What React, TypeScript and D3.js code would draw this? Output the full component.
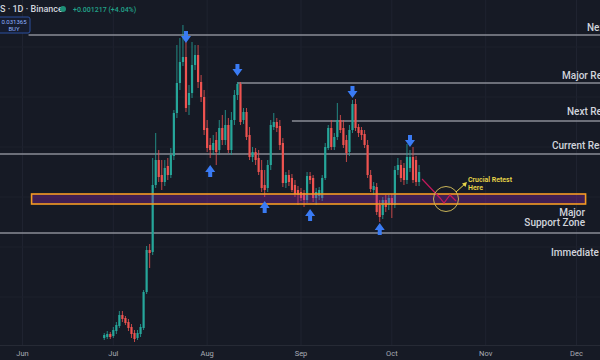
import React from "react";
import * as d3 from "d3";

const width = 600;
const height = 360;

// daily candles from 28 Jun, prices in units of 0.0001 USDT
const firstDay = new Date(Date.UTC(2024, 5, 28));
const opens = [
  159, 160, 163, 161, 166, 171, 182, 179, 175, 170,
  164, 159, 163, 169, 205, 247, 245, 312, 337, 322,
  315, 331, 322, 341, 384, 414, 435, 440, 392, 404,
  432, 442, 415, 400, 369, 352, 347, 357, 347, 369,
  357, 372, 347, 377, 402, 413, 377, 385, 362, 340,
  345, 339, 327, 312, 309, 332, 370, 375, 371, 354,
  314, 322, 319, 312, 307, 305, 304, 297, 321, 319,
  299, 301, 299, 319, 349, 369, 350, 360, 377, 369,
  357, 345, 367, 393, 370, 367, 363, 352, 322, 307,
  310, 292, 282, 297, 292, 299, 292, 327, 332, 329,
  317, 329, 340, 337, 315,
];
const highs = [
  164, 166, 165, 170, 175, 186, 186, 181, 178, 173,
  167, 167, 173, 207, 251, 253, 339, 364, 347, 337,
  337, 339, 349, 387, 452, 459, 472, 466, 412, 455,
  452, 452, 422, 407, 377, 359, 362, 365, 377, 382,
  387, 379, 385, 407, 415, 415, 389, 389, 370, 350,
  349, 347, 337, 327, 337, 377, 384, 379, 377, 359,
  325, 327, 323, 317, 311, 309, 307, 325, 325, 322,
  309, 310, 322, 354, 372, 377, 364, 394, 382, 377,
  362, 372, 397, 398, 373, 370, 367, 357, 327, 315,
  314, 297, 300, 302, 302, 303, 331, 339, 337, 334,
  353, 347, 350, 341, 332,
];
const lows = [
  157, 158, 158, 159, 163, 169, 175, 172, 166, 159,
  155, 157, 160, 167, 203, 229, 242, 309, 315, 307,
  311, 317, 319, 337, 379, 407, 431, 385, 382, 399,
  427, 409, 395, 362, 345, 339, 342, 332, 342, 352,
  352, 344, 342, 372, 397, 372, 373, 357, 337, 335,
  332, 322, 305, 300, 305, 327, 367, 365, 347, 310,
  309, 311, 305, 300, 292, 296, 290, 294, 313, 295,
  292, 297, 296, 317, 347, 347, 347, 357, 364, 349,
  335, 341, 364, 366, 360, 357, 349, 319, 305, 302,
  282, 275, 278, 285, 287, 279, 289, 322, 315, 312,
  313, 325, 314, 311, 311,
];
const closes = [
  162, 163, 160, 167, 172, 182, 178, 174, 169, 163,
  158, 164, 170, 205, 247, 244, 312, 337, 320, 315,
  329, 322, 342, 384, 414, 435, 440, 389, 404, 432,
  442, 415, 400, 367, 349, 347, 354, 345, 369, 357,
  372, 347, 377, 402, 413, 375, 385, 360, 340, 345,
  337, 325, 309, 307, 332, 372, 375, 369, 352, 314,
  322, 315, 307, 303, 302, 299, 297, 321, 317, 299,
  305, 307, 319, 350, 369, 350, 360, 377, 367, 352,
  344, 367, 393, 369, 364, 362, 352, 322, 308, 311,
  285, 280, 297, 290, 299, 292, 327, 332, 319, 317,
  340, 340, 317, 315, 325,
];

// horizontal levels: label, price, first day index (null = from left edge)
const levelNames = ["Next Target", "Major Resistance", "Next Resistance", "Current Resistance", "Immediate Support"];
const levelPrices = [462, 414, 376, 343, 264];
const levelStarts = [-25, 44, 62, null, null];
const zoneTop = 303;
const zoneBottom = 293;

// blue arrows: candle index and price
const downArrowDays = [27, 44, 82, 101];
const downArrowPrices = [460, 427, 405, 356];
const upArrowDays = [35, 53, 68, 91];
const upArrowPrices = [326, 290, 282, 268];

const up = "#26a69a";
const down = "#ef5350";

const App = () => {
  const x = d3
    .scaleUtc()
    .domain([new Date(Date.UTC(2024, 5, 1)), new Date(Date.UTC(2024, 11, 1))])
    .range([22.5, 576.5]);
  const y = d3.scaleLinear().domain([150, 500]).range([347, -3]);
  const dayX = (i) => x(d3.utcDay.offset(firstDay, i));

  const months = x.ticks(d3.utcMonth.every(1));
  const gridPrices = d3.range(200, 500, 50);
  const font = "Roboto, 'Noto Sans', sans-serif";

  const arrow = (cx, cy, dir, key) => {
    // dir 1 = pointing down, -1 = pointing up
    const p = [
      [-2, -6], [2, -6], [2, -1], [5, -1], [0, 6], [-5, -1], [-2, -1],
    ].map(([a, b]) => `${cx + a},${cy + b * dir}`);
    return <polygon key={key} points={p.join(" ")} fill="#3a7bf4" />;
  };

  const retest = d3.line()([
    [dayX(104) + 3, y(318)],
    [440, y(299)],
    [444, y(294)],
    [450, y(302)],
    [456, y(296)],
  ]);

  return (
    <svg
      width={width}
      height={height}
      style={{ position: "fixed", left: 0, top: 0, background: "#161a25" }}
    >
      <rect width={width} height={height} fill="#161a25" />
      {months.map((m, i) => (
        <line key={"vg" + i} x1={x(m)} x2={x(m)} y1={0} y2={345} stroke="#1f2330" />
      ))}
      {gridPrices.map((p, i) => (
        <line key={"hg" + i} x1={0} x2={width} y1={y(p)} y2={y(p)} stroke="#1d212c" />
      ))}

      {levelPrices.map((p, i) => (
        <line
          key={"lv" + i}
          x1={levelStarts[i] === null ? 0 : dayX(levelStarts[i])}
          x2={width}
          y1={y(p)}
          y2={y(p)}
          stroke="#8a8d96"
          strokeWidth={1.4}
        />
      ))}

      {opens.map((o, i) => {
        const c = closes[i];
        const cx = dayX(i);
        const col = c >= o ? up : down;
        const top = y(Math.max(o, c));
        const bh = Math.max(1, Math.abs(y(o) - y(c)));
        return (
          <g key={"c" + i}>
            <line x1={cx} x2={cx} y1={y(highs[i])} y2={y(lows[i])} stroke={col} strokeWidth={0.8} />
            <rect x={cx - 1.1} y={top} width={2.2} height={bh} fill={col} />
          </g>
        );
      })}

      <rect
        x={dayX(-24)}
        y={y(zoneTop)}
        width={dayX(159.5) - dayX(-24)}
        height={y(zoneBottom) - y(zoneTop)}
        fill="#9c27b0"
        fillOpacity={0.32}
        stroke="#f59a23"
        strokeWidth={1.6}
      />

      {downArrowDays.map((d, i) => arrow(dayX(d), y(downArrowPrices[i]), 1, "da" + i))}
      {upArrowDays.map((d, i) => arrow(dayX(d), y(upArrowPrices[i]), -1, "ua" + i))}

      <path d={retest} fill="none" stroke="#c2185b" strokeWidth={1.2} />
      <circle cx={446} cy={y(298)} r={12.5} fill="none" stroke="#c9b458" strokeWidth={1} />
      <line x1={456} y1={192} x2={466} y2={183} stroke="#e6d54a" strokeWidth={1} />
      <polygon points="467,182 462,183.5 465.5,187" fill="#e6d54a" />
      <g fontFamily={font} fontSize={7} fontWeight={600} fill="#ead84a">
        <text x={468} y={182}>Crucial Retest</text>
        <text x={468} y={190}>Here</text>
      </g>

      <g fontFamily={font} fontSize={10} fontWeight={500} fill="#d1d4dc">
        <text x={587} y={y(levelPrices[0]) - 4}>{levelNames[0]}</text>
        <text x={562} y={y(levelPrices[1]) - 4}>{levelNames[1]}</text>
        <text x={567} y={y(levelPrices[2]) - 6}>{levelNames[2]}</text>
        <text x={552} y={y(levelPrices[3]) - 5}>{levelNames[3]}</text>
        <text x={551} y={y(levelPrices[4]) + 23}>{levelNames[4]}</text>
        <text x={585} y={216} textAnchor="end">Major</text>
        <text x={585} y={226} textAnchor="end">Support Zone</text>
      </g>

      <line x1={0} x2={width} y1={345.5} y2={345.5} stroke="#262a35" />
      <g fontFamily={font} fontSize={7.5} fill="#a9acb5" textAnchor="middle">
        {months.map((m, i) => (
          <text key={"mt" + i} x={x(m)} y={356}>
            {d3.utcFormat("%b")(m)}
          </text>
        ))}
      </g>

      <g fontFamily={font} fontSize={9} fontWeight={500}>
        <text x={0} y={12} fill="#d1d4dc">S · 1D · Binance</text>
        <circle cx={63} cy={9} r={3} fill="#1d8f77" />
        <text x={73} y={11.5} fontSize={7} fill="#22a38a">+0.001217 (+4.04%)</text>
      </g>
      <rect x={-2} y={17} width={32} height={16} rx={2} fill="#161c2e" stroke="#2b4f9e" />
      <g fontFamily={font} fontSize={6} fill="#8fb3ff" textAnchor="middle">
        <text x={14} y={24}>0.031365</text>
        <text x={14} y={31}>BUY</text>
      </g>
    </svg>
  );
};

export default App;
